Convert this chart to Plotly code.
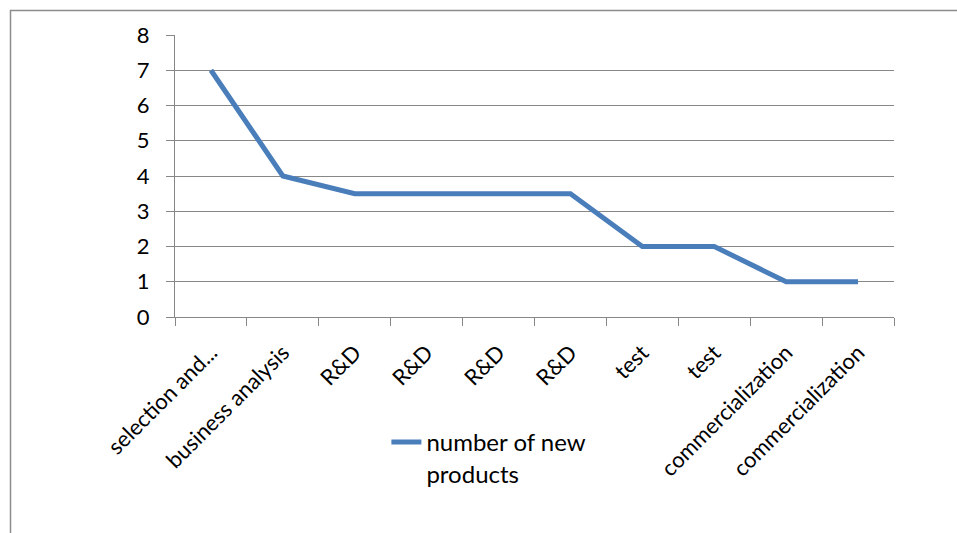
import plotly.graph_objects as go

categories = ["selection and...", "business analysis", "R&D", "R&D", "R&D", "R&D",
              "test", "test", "commercialization", "commercialization"]
values = [7, 4, 3.5, 3.5, 3.5, 3.5, 2, 2, 1, 1]
series_name = "number of new<br>products"
y_ticks = [0, 1, 2, 3, 4, 5, 6, 7, 8]

positions = list(range(len(categories)))
boundaries = [i - 0.5 for i in range(len(categories) + 1)]

GRID = "#878787"
FONT = "Lato, Carlito, Calibri, sans-serif"

fig = go.Figure()
fig.add_trace(go.Scatter(
    x=positions, y=values, mode="lines", name=series_name,
    line=dict(color="#4A7EBB", width=5),
))

fig.update_layout(
    width=957, height=533,
    margin=dict(l=175, r=63, t=35, b=216),
    paper_bgcolor="white", plot_bgcolor="white",
    font=dict(family=FONT, size=20, color="black"),
    showlegend=True,
    legend=dict(x=0.294, y=-0.365, xanchor="left", yanchor="top",
                valign="top", font=dict(size=24, family=FONT),
                bgcolor="rgba(0,0,0,0)"),
    xaxis=dict(
        range=[-0.5, len(categories) - 0.5],
        tickmode="array", tickvals=positions, ticktext=categories,
        tickangle=-45, ticks="", showgrid=False, zeroline=False,
        showline=True, linecolor=GRID, linewidth=1.3,
        tickfont=dict(size=22), ticklabelstandoff=13,
        minor=dict(tickmode="array", tickvals=boundaries, ticks="outside",
                   ticklen=8, tickcolor=GRID, tickwidth=1.3, showgrid=False),
    ),
    yaxis=dict(
        range=[0, 8], tickmode="array", tickvals=y_ticks,
        ticks="outside", ticklen=8, tickcolor=GRID, tickwidth=1.3,
        showgrid=True, gridcolor=GRID, gridwidth=1.3,
        showline=True, linecolor=GRID, linewidth=1.3, zeroline=False,
        tickfont=dict(size=22), ticklabelstandoff=12,
    ),
    shapes=[
        dict(type="rect", xref="paper", yref="paper",
             x0=(10.5 - 175) / 719, x1=2.0,
             y0=-2.0, y1=(317 - 10.5) / 282,
             line=dict(color="#8c8c8c", width=1.5), layer="below"),
    ],
)

fig.write_html("out.html")
